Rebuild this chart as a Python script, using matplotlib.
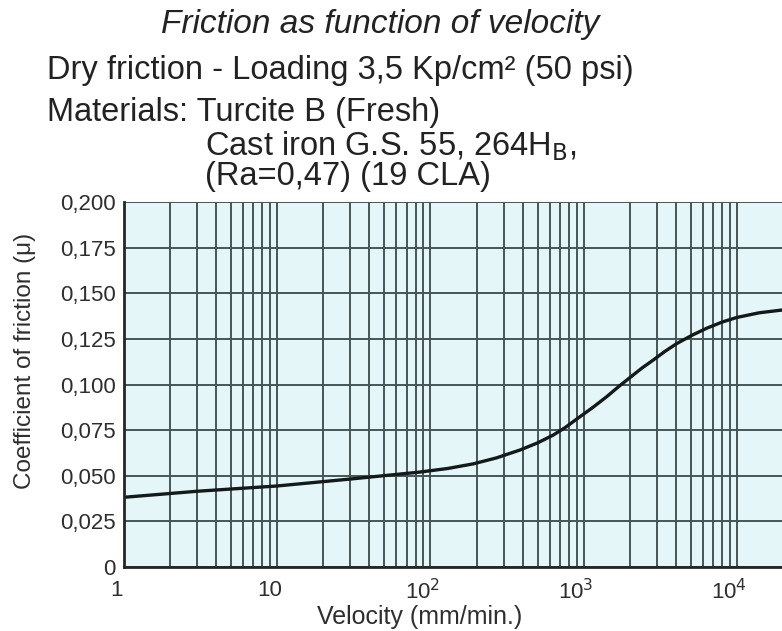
import matplotlib
matplotlib.use('Agg')
import matplotlib.pyplot as plt
import matplotlib.transforms as mtransforms
from matplotlib.ticker import FixedLocator, LogLocator, NullFormatter

plt.rcParams['font.family'] = ['Liberation Sans', 'DejaVu Sans']

# curve (velocity in mm/min, friction coefficient)
velocity = [1, 3, 10, 30, 85, 130, 190, 270, 384, 500, 633, 760, 899, 1150, 1413, 1700,
            2005, 2400, 2845, 3400, 4044, 5100, 6340, 8000, 9950, 14000, 19700]
friction = [0.0382, 0.0415, 0.0444, 0.0482, 0.0520, 0.0540, 0.0565, 0.0598, 0.0641,
            0.0680, 0.0723, 0.0765, 0.0810, 0.0875, 0.0933, 0.0990, 0.1038, 0.1090,
            0.1134, 0.1182, 0.1224, 0.1270, 0.1308, 0.1342, 0.1367, 0.1393, 0.1408]

y_ticks = [0, 0.025, 0.05, 0.075, 0.1, 0.125, 0.15, 0.175, 0.2]
y_tick_labels = ['0', '0,025', '0,050', '0,075', '0,100', '0,125', '0,150', '0,175', '0,200']
x_ticks = [1, 10, 100, 1000, 10000]
x_tick_labels = ['1', '10', '10$^2$', '10$^3$', '10$^4$']

W, H = 782, 631
fig = plt.figure(figsize=(W / 100, H / 100), dpi=100)
ax = fig.add_axes([124 / W, 1 - 567 / H, (782 - 124) / W, (567 - 202) / H])

grid_col = '#465555'
ax.set_facecolor('#e5f6f8')
ax.set_xscale('log')
ax.set_xlim(1, 19700)
ax.set_ylim(0, 0.2)

ax.xaxis.set_major_locator(FixedLocator(x_ticks))
ax.xaxis.set_minor_locator(LogLocator(base=10, subs=range(2, 10), numticks=20))
ax.xaxis.set_minor_formatter(NullFormatter())
ax.set_xticklabels(x_tick_labels)
ax.set_yticks(y_ticks)
ax.set_yticklabels(y_tick_labels)

ax.grid(True, which='both', axis='x', color=grid_col, lw=1.4)
ax.grid(True, which='major', axis='y', color=grid_col, lw=1.4)
ax.set_axisbelow(True)
ax.tick_params(which='both', length=0)
ax.tick_params(axis='x', labelsize=16, colors='#2e2e2e', pad=9)
ax.tick_params(axis='y', labelsize=16, colors='#2e2e2e', pad=6)

# x tick labels sit a little left of their grid lines in the original print
offset = mtransforms.ScaledTranslation(-8 / 100, 0, fig.dpi_scale_trans)
for lbl in ax.get_xticklabels():
    lbl.set_transform(lbl.get_transform() + offset)

for side in ['top', 'right']:
    ax.spines[side].set_visible(False)
for side in ['left', 'bottom']:
    ax.spines[side].set_color('#262626')
    ax.spines[side].set_linewidth(2)

ax.plot(velocity, friction, color='#141919', lw=2.4, solid_joinstyle='round',
        solid_capstyle='round')

txt = '#222222'
fig.text(380 / W, 1 - 24 / H, 'Friction as function of velocity', ha='center', va='center',
         fontsize=24, style='italic', color=txt)
fig.text(47 / W, 1 - 70 / H, 'Dry friction - Loading 3,5 Kp/cm\u00b2 (50 psi)', ha='left',
         va='center', fontsize=23.5, color=txt)
fig.text(47 / W, 1 - 112 / H, 'Materials: Turcite B (Fresh)', ha='left', va='center',
         fontsize=23.5, color=txt)
fig.text(205 / W, 1 - 146 / H, 'Cast iron G.S. 55, 264H$_\\mathrm{B}$,', ha='left',
         va='center', fontsize=23.5, color=txt)
fig.text(205 / W, 1 - 176 / H, '(Ra=0,47) (19 CLA)', ha='left', va='center',
         fontsize=23.5, color=txt)

fig.text(25 / W, 1 - 361 / H, 'Coefficient of friction (\u03bc)', rotation=90, ha='center',
         va='center', fontsize=17.5, color='#2e2e2e')
fig.text(420 / W, 1 - 617 / H, 'Velocity (mm/min.)', ha='center', va='center',
         fontsize=18, color='#2e2e2e')

fig.savefig('out.png', dpi=100)
